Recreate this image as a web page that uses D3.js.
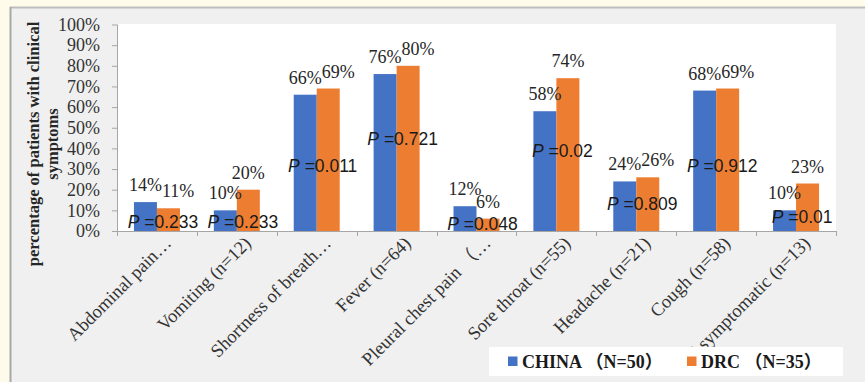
<!DOCTYPE html>
<html>
<head>
<meta charset="utf-8">
<script src="https://cdn.jsdelivr.net/npm/d3@7"></script>
<style>
  body { margin: 0; background: #fffbea; }
  svg { display: block; }
  .serif { font-family: "Times New Roman", "Liberation Serif", "Noto Sans CJK SC", serif; }
</style>
</head>
<body>
<script>
// symptom categories (x axis)
var categories = ["Abdominal pain\u2026", "Vomiting (n=12)", "Shortness of breath\u2026", "Fever (n=64)",
                  "Pleural chest pain \uFF08\u2026", "Sore throat (n=55)", "Headache (n=21)", "Cough (n=58)",
                  "Asymptomatic (n=13)"];
// share of patients with each symptom
var china = [0.14, 0.10, 0.66, 0.76, 0.12, 0.58, 0.24, 0.68, 0.10];
var drc   = [0.11, 0.20, 0.69, 0.80, 0.06, 0.74, 0.26, 0.69, 0.23];
// p values and the height they sit at
var pValues = ["0.233", "0.233", "0.011", "0.721", "0.048", "0.02", "0.809", "0.912", "0.01"];
var pLevel  = [0.044, 0.044, 0.315, 0.446, 0.034, 0.392, 0.131, 0.315, 0.068];
var seriesNames = ["CHINA \uFF08N=50\uFF09", "DRC \uFF08N=35\uFF09"];
var seriesColors = ["#4472c4", "#ed7d31"];
var yTickValues = [0, 0.1, 0.2, 0.3, 0.4, 0.5, 0.6, 0.7, 0.8, 0.9, 1];

window.onload = drawChart();

function drawChart(){
    var width = 865, height = 382;

    var svg = d3.select("body")
        .append("svg")
        .attr("width", width)
        .attr("height", height);

    //cream page + grey chart panel
    svg.append("rect").attr("width", width).attr("height", height).attr("fill", "#fffbea");
    svg.append("rect")
        .attr("x", 10).attr("y", 7)
        .attr("width", width - 10).attr("height", height - 7)
        .attr("fill", "#f0f0f0");
    svg.append("line").attr("x1", 10).attr("x2", width).attr("y1", 7.5).attr("y2", 7.5)
        .attr("stroke", "#bdbdbd").attr("stroke-width", 2);
    svg.append("line").attr("x1", 10.5).attr("x2", 10.5).attr("y1", 7).attr("y2", height)
        .attr("stroke", "#a8a8a8").attr("stroke-width", 2);

    var left = 117, right = 836, top = 24.5, bottom = 231;

    //white plot area
    svg.append("rect")
        .attr("x", left).attr("y", top - 0.5)
        .attr("width", right - left).attr("height", bottom - top + 0.5)
        .attr("fill", "#ffffff");

    var y = d3.scaleLinear().domain([0, 1]).range([bottom, top]);
    var x0 = d3.scaleBand().domain(categories).range([left, right]).padding(0);
    var x1 = d3.scaleBand().domain([0, 1]).range([0, x0.bandwidth()])
        .paddingInner(0).paddingOuter(0.737);

    //y axis
    var yAxis = svg.append("g")
        .attr("class", "serif")
        .attr("transform", "translate(" + left + ",0)")
        .call(d3.axisLeft(y).tickValues(yTickValues).tickFormat(d3.format(".0%")).tickSize(5).tickPadding(12));
    yAxis.select(".domain").remove();
    yAxis.selectAll(".tick line").attr("stroke", "#a6a6a6");
    yAxis.selectAll(".tick text").attr("font-size", 18).attr("fill", "#333");
    svg.append("line").attr("x1", left + 0.5).attr("x2", left + 0.5).attr("y1", top).attr("y2", bottom)
        .attr("stroke", "#a6a6a6");

    //bars
    var groups = svg.selectAll(".grp")
        .data(categories)
        .enter()
        .append("g")
        .attr("class", "grp")
        .attr("transform", function(d){ return "translate(" + x0(d) + ",0)"; });

    [china, drc].forEach(function(vals, s){
        groups.append("rect")
            .attr("x", x1(s))
            .attr("width", x1.bandwidth())
            .attr("y", function(d, i){ return y(vals[i]); })
            .attr("height", function(d, i){ return y(0) - y(vals[i]); })
            .attr("fill", seriesColors[s]);
    });

    //x axis line + boundary ticks
    svg.append("line").attr("x1", left).attr("x2", right + 0.5).attr("y1", bottom + 0.5).attr("y2", bottom + 0.5)
        .attr("stroke", "#a6a6a6");
    var bounds = categories.map(function(c){ return x0(c); }).concat([right]);
    svg.selectAll(".btick")
        .data(bounds)
        .enter()
        .append("line")
        .attr("x1", function(d){ return Math.round(d) + 0.5; })
        .attr("x2", function(d){ return Math.round(d) + 0.5; })
        .attr("y1", bottom).attr("y2", bottom + 5)
        .attr("stroke", "#a6a6a6");

    //category labels
    svg.selectAll(".cat")
        .data(categories)
        .enter()
        .append("text")
        .attr("class", "serif")
        .attr("font-size", 18.5)
        .attr("fill", "#333")
        .attr("text-anchor", "end")
        .attr("dy", "0.71em")
        .attr("transform", function(d){
            return "translate(" + (x0(d) + x0.bandwidth() / 2 + 6) + "," + 235 + ") rotate(-45)";
        })
        .text(function(d){ return d; });

    //p value labels
    svg.selectAll(".pval")
        .data(categories)
        .enter()
        .append("text")
        .attr("font-family", "'Liberation Sans', Arial, sans-serif")
        .attr("font-size", 17.5)
        .attr("fill", "#1a1a1a")
        .attr("text-anchor", "middle")
        .attr("x", function(d){ return x0(d) + x0.bandwidth() / 2 + 6; })
        .attr("y", function(d, i){ return y(pLevel[i]) + 6.5; })
        .each(function(d, i){
            var t = d3.select(this);
            t.append("tspan").attr("font-style", "italic").text("P");
            t.append("tspan").text(" =" + pValues[i]);
        });

    //value labels, orange one pushed right when it would collide with the blue one
    categories.forEach(function(c, i){
        var cx = x0(c);
        var bx = cx + x1(0) + x1.bandwidth() / 2,
            ox = cx + x1(1) + x1.bandwidth() / 2;
        var by = y(china[i]) - 11, oy = y(drc[i]) - 11;
        var bt = svg.append("text").attr("class", "serif").attr("font-size", 18).attr("fill", "#262626")
            .attr("text-anchor", "middle").attr("x", bx).attr("y", by)
            .text(d3.format(".0%")(china[i]));
        var ot = svg.append("text").attr("class", "serif").attr("font-size", 18).attr("fill", "#262626")
            .attr("text-anchor", "middle").attr("x", ox).attr("y", oy)
            .text(d3.format(".0%")(drc[i]));
        if (Math.abs(by - oy) < 10) {
            var wb = bt.node().getComputedTextLength(), wo = ot.node().getComputedTextLength();
            ot.attr("x", bx + wb / 2 + wo / 2);
        }
    });

    //y axis title
    var title = svg.append("text")
        .attr("class", "serif")
        .attr("font-size", 16.5)
        .attr("font-weight", "bold")
        .attr("fill", "#262626")
        .attr("text-anchor", "middle")
        .attr("transform", "translate(39,144) rotate(-90)");
    title.append("tspan").attr("x", 0).attr("y", 0).text("percentage of patients with clinical");
    title.append("tspan").attr("x", 0).attr("y", 18.5).text("symptoms");

    //legend
    var legend = svg.append("g").attr("transform", "translate(489,347)");
    legend.append("rect").attr("width", 354).attr("height", 29).attr("fill", "#ffffff");
    var legX = [19, 198];
    seriesNames.forEach(function(n, s){
        legend.append("rect")
            .attr("x", legX[s]).attr("y", 9.5)
            .attr("width", 9.5).attr("height", 9.5)
            .attr("fill", seriesColors[s]);
        legend.append("text")
            .attr("class", "serif")
            .attr("font-size", 18)
            .attr("font-weight", "bold")
            .attr("fill", "#1a1a1a")
            .attr("x", legX[s] + 14)
            .attr("y", 20.5)
            .text(n);
    });
};
</script>
</body>
</html>
